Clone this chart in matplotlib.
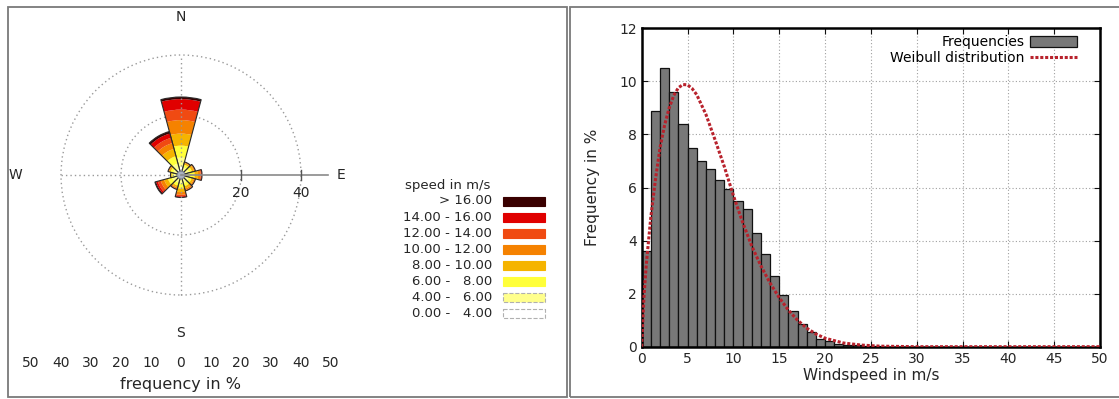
# Wind rose + wind speed histogram with Weibull fit (two gnuplot-style panels)
import numpy as np
import matplotlib; matplotlib.use("Agg")
import matplotlib.pyplot as plt
from matplotlib.patches import Wedge, Circle, Rectangle

plt.rcParams["font.family"] = ["DejaVu Sans"]
TXT = "#262626"

# ---- wind rose data ----
directions = [0, 30, 60, 90, 120, 150, 180, 210, 240, 270, 300, 330]   # deg clockwise from N
# frequency (%) per speed class: 0-4, 4-6, 6-8, 8-10, 10-12, 12-14, 14-16, >16
rose_freq = [
    [2.8, 3.0, 4.0, 4.0, 4.5, 3.5, 3.5, 0.7],   # N
    [1.5, 1.2, 0.9, 0.5, 0.3, 0.1, 0.0, 0.0],
    [1.5, 1.3, 1.0, 0.7, 0.3, 0.2, 0.0, 0.0],
    [1.5, 1.5, 1.5, 1.2, 0.8, 0.3, 0.2, 0.0],   # E
    [1.5, 1.2, 1.0, 0.7, 0.4, 0.2, 0.0, 0.0],
    [1.5, 1.3, 1.1, 0.8, 0.5, 0.3, 0.0, 0.0],
    [1.5, 1.5, 1.5, 1.2, 0.9, 0.5, 0.3, 0.1],   # S
    [1.5, 1.2, 1.0, 0.6, 0.4, 0.2, 0.1, 0.0],
    [1.5, 1.5, 1.5, 1.3, 1.2, 1.0, 0.6, 0.4],
    [1.5, 1.0, 0.6, 0.3, 0.1, 0.0, 0.0, 0.0],   # W
    [1.5, 1.2, 0.9, 0.5, 0.3, 0.1, 0.0, 0.0],
    [2.0, 2.0, 2.5, 2.5, 2.0, 1.8, 1.5, 0.7],
]
speed_labels = ["0.00 -   4.00", "4.00 -   6.00", "6.00 -   8.00", "8.00 - 10.00",
                "10.00 - 12.00", "12.00 - 14.00", "14.00 - 16.00", "> 16.00"]
speed_colors = ["#ffffff", "#ffff8c", "#ffff3a", "#f5b400", "#f58200",
                "#f04a12", "#e00000", "#3a0000"]
ring_radii = [20, 40]
scale_ticks = [-50, -40, -30, -20, -10, 0, 10, 20, 30, 40, 50]

# ---- histogram data ----
bin_left = list(range(26))
freq = [3.6, 8.9, 10.5, 9.6, 8.4, 7.5, 7.0, 6.7, 6.3, 5.95, 5.5, 5.2, 4.3,
        3.5, 2.65, 1.95, 1.35, 0.85, 0.55, 0.3, 0.2, 0.12, 0.08, 0.05, 0.03, 0.02]
weib_x = [0, 0.25, 0.5, 1, 1.5, 2, 2.5, 3, 3.5, 4, 4.5, 5, 5.5, 6, 7, 8, 9, 10,
          11, 12, 13, 14, 15, 16, 17, 18, 19, 20, 22, 24, 26, 28, 30, 50]
weib_y = [0, 1.9, 3.1, 4.9, 6.3, 7.5, 8.35, 9.0, 9.47, 9.76, 9.88, 9.87, 9.73,
          9.5, 8.76, 7.8, 6.8, 5.7, 4.7, 3.8, 3.05, 2.4, 1.85, 1.38, 1.0, 0.7,
          0.48, 0.32, 0.14, 0.06, 0.02, 0.01, 0.0, 0.0]

W, H = 1119, 399
fig = plt.figure(figsize=(W / 100, H / 100), dpi=100)

# panel frames
for x0, x1 in [(8, 567), (570, 1130)]:
    fig.add_artist(Rectangle((x0 / W, 2 / H), (x1 - x0) / W, 390 / H, transform=fig.transFigure,
                             fill=False, ec="#7a7a7a", lw=1.3))

# ================= wind rose =================
ax = fig.add_axes([7 / W, 2 / H, 348 / W, 390 / H])
ax.set_xlim(-58, 58); ax.set_ylim(-74, 56)
ax.axis("off")

dot = (0, (1, 2.2))
for r in ring_radii:
    ax.add_patch(Circle((0, 0), r, fill=False, ec="#9a9a9a", lw=1, ls=dot))
ax.plot([-40, 0], [0, 0], color="#9a9a9a", lw=1, ls=dot)
ax.plot([0, 0], [-40, 40], color="#9a9a9a", lw=1, ls=dot)
ax.plot([0, 49], [0, 0], color="#8a8a8a", lw=1.2)
for r in ring_radii:
    ax.plot([r, r], [-1.6, 1.6], color="#555555", lw=1)
    ax.text(r, -6, str(r), ha="center", va="center", fontsize=10, color=TXT)

for d, row in zip(directions, rose_freq):
    cum = np.cumsum(row)
    inner = np.concatenate([[0], cum[:-1]])
    t1, t2 = 90 - d - 15, 90 - d + 15
    for lo, hi, c in zip(inner, cum, speed_colors):
        if hi - lo <= 0:
            continue
        ax.add_patch(Wedge((0, 0), hi, t1, t2, width=hi - lo, fc=c, ec="none"))
    ax.add_patch(Wedge((0, 0), cum[-1], t1, t2, fill=False, ec="#2a2a2a", lw=0.8))
ax.add_patch(Circle((0, 0), 1.3, fc="#a8b0c0", ec="#707880", lw=0.6))

ax.text(0, 52.7, "N", ha="center", va="center", fontsize=10, color=TXT)
ax.text(0, -52.7, "S", ha="center", va="center", fontsize=10, color=TXT)
ax.text(-55.3, 0, "W", ha="center", va="center", fontsize=10, color=TXT)
ax.text(53.3, 0, "E", ha="center", va="center", fontsize=10, color=TXT)
for t in scale_ticks:
    ax.text(t, -62.7, str(abs(t)), ha="center", va="center", fontsize=10, color=TXT)
ax.text(0, -70, "frequency in %", ha="center", va="center", fontsize=11.5, color=TXT)

# legend of speed classes
lg = fig.add_axes([0, 0, 1, 1]); lg.set_xlim(0, W); lg.set_ylim(H, 0); lg.axis("off")
lg.text(405, 185, "speed in m/s", ha="left", va="center", fontsize=9.5, color=TXT)
for i, (lab, c) in enumerate(zip(speed_labels[::-1], speed_colors[::-1])):
    y = 201 + i * 16.1
    lg.text(492, y, lab, ha="right", va="center", fontsize=9.5, color=TXT)
    dashed = i >= 6
    lg.add_patch(Rectangle((503, y - 4.5), 42, 9, fc=c,
                           ec="#b0b0b0" if dashed else c, lw=0.8,
                           ls="--" if dashed else "-"))

# ================= histogram =================
ax2 = fig.add_axes([641.7 / W, 52.3 / H, 458.3 / W, 318.4 / H])
bars = ax2.bar(bin_left, freq, width=1, align="edge", color="#787878", edgecolor="#111111",
               lw=0.9, label="Frequencies", zorder=2)
line, = ax2.plot(weib_x, weib_y, color="#b8222c", lw=2.2, ls=(0, (1, 0.6)),
                 label="Weibull distribution", zorder=3)
ax2.set_xlim(0, 50); ax2.set_ylim(0, 12)
ax2.set_xticks(range(0, 51, 5)); ax2.set_yticks(range(0, 13, 2))
ax2.grid(True, ls=(0, (1, 2)), color="#a0a0a0", lw=0.8)
ax2.set_axisbelow(True)
ax2.tick_params(direction="in", top=True, right=True, length=4, labelsize=10,
                colors="#111111", labelcolor=TXT)
for s in ax2.spines.values():
    s.set_linewidth(1.8)
ax2.set_xlabel("Windspeed in m/s", fontsize=11, color=TXT, labelpad=2)
ax2.set_ylabel("Frequency in %", fontsize=11, color=TXT, labelpad=14)
ax2.legend([bars, line], ["Frequencies", "Weibull distribution"],
           loc="upper right", bbox_to_anchor=(0.962, 0.995), frameon=False,
           markerfirst=False, fontsize=10, handlelength=3.4, handleheight=0.8,
           labelspacing=0.1, borderaxespad=0, handletextpad=0.4)

fig.savefig("out.png", dpi=100)
